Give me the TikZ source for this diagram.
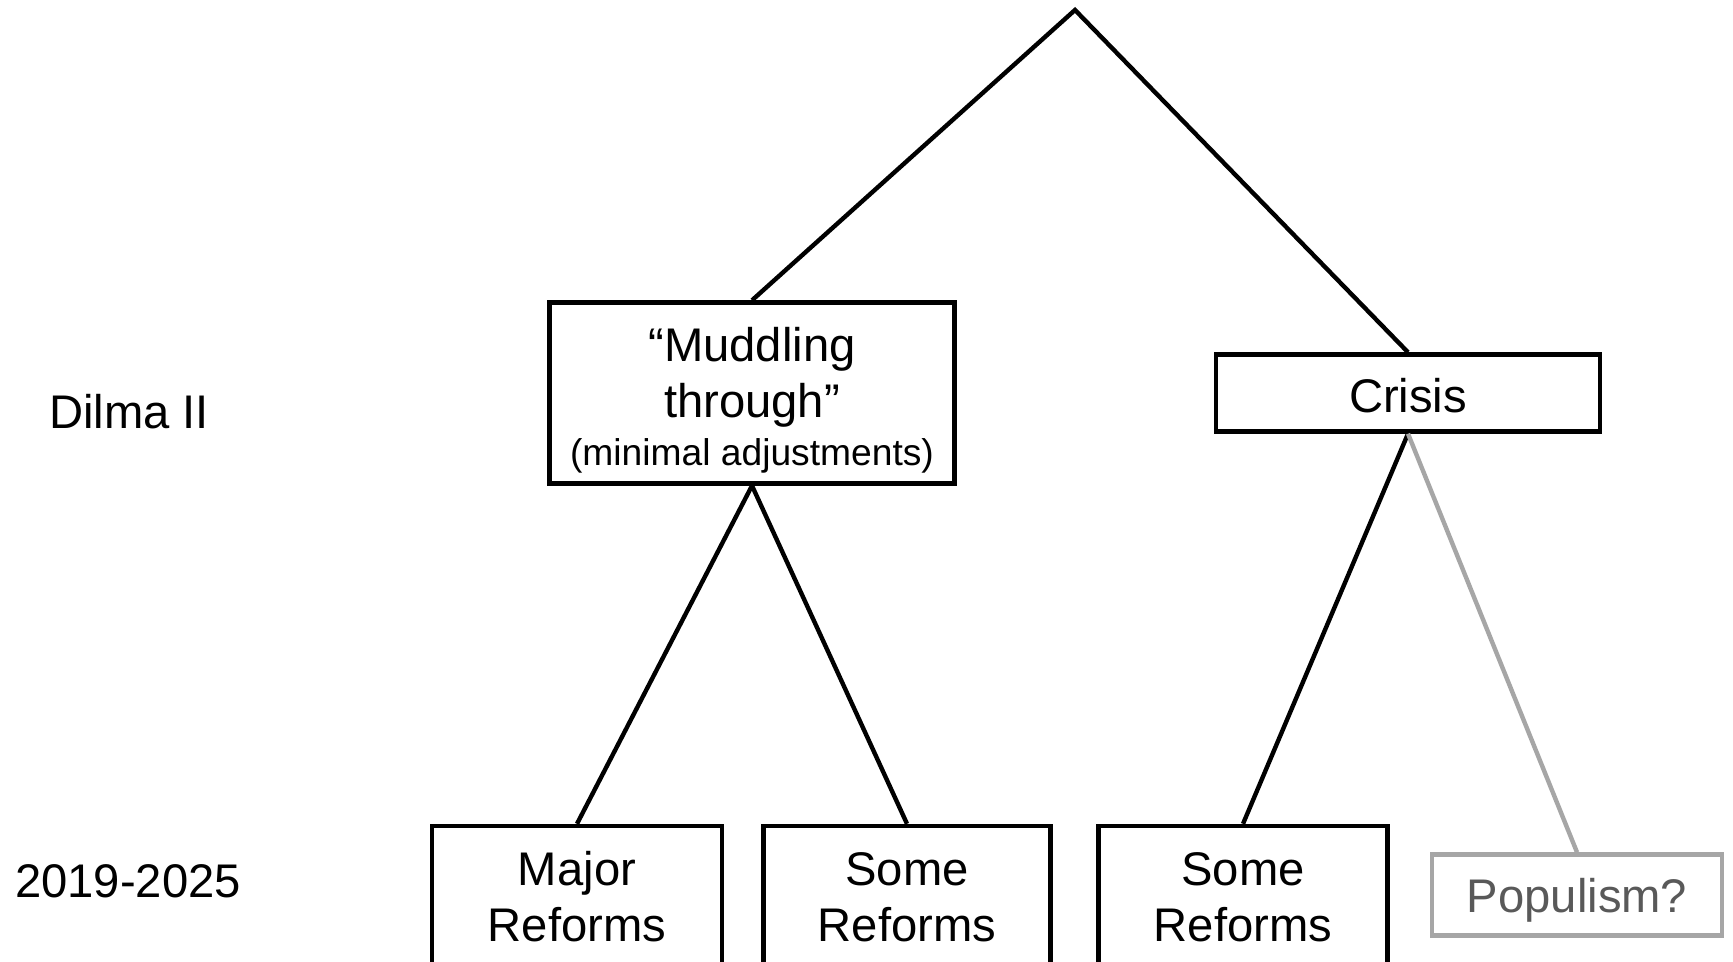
\documentclass[tikz,border=0pt]{standalone}
\usepackage{fontspec}
\setmainfont{Liberation Sans}
\definecolor{lightgrayline}{HTML}{A6A6A6}
\definecolor{graytext}{HTML}{595959}
\begin{document}
\begin{tikzpicture}[x=0.5pt,y=-0.5pt,
  bigfont/.style={font=\fontsize{23.6}{28}\selectfont},
  box/.style={draw, line width=2.2pt, align=center, inner sep=0pt, bigfont},
  link/.style={line width=2.2pt},
  greylink/.style={line width=2.2pt, draw=lightgrayline},
  lbl/.style={bigfont, inner sep=0pt}]
\useasboundingbox (0,0) rectangle (1733,962);
\clip (0,0) rectangle (1733,962);
\fill[white] (0,0) rectangle (1733,962);
\coordinate (apex) at (1075,10);
\node[box, minimum width=202.5pt, minimum height=90.5pt] (mud) at (752,393)
  {\rule{0pt}{24.5pt}“Muddling\\through”\\[-4pt]{\fontsize{18.6}{22}\selectfont (minimal adjustments)}};
\node[box, text depth=0pt, minimum width=192pt, minimum height=38.5pt] (crisis) at (1408,393) {\raisebox{-2pt}{Crisis}};
\node[box, minimum width=145pt, minimum height=71pt] (major) at (577,897) {Major\\Reforms};
\node[box, minimum width=143.5pt, minimum height=71pt] (some1) at (907,897) {Some\\Reforms};
\node[box, minimum width=144.5pt, minimum height=71pt] (some2) at (1243,897) {Some\\Reforms};
\node[box, draw=lightgrayline, text=graytext, text depth=0pt, minimum width=145pt, minimum height=40.5pt] (pop) at (1577,895) {Populism?};
\node[lbl] (dilma) at (129,412) {Dilma II};
\node[lbl] (years) at (128,881) {2019-2025};
\draw[link, line join=miter] (mud.north) -- (apex) -- (crisis.north);
\draw[link] (mud.south) -- (major.north);
\draw[link] (mud.south) -- (some1.north);
\draw[link] (crisis.south) -- (some2.north);
\draw[greylink] (crisis.south) -- (pop.north);
\end{tikzpicture}
\end{document}
